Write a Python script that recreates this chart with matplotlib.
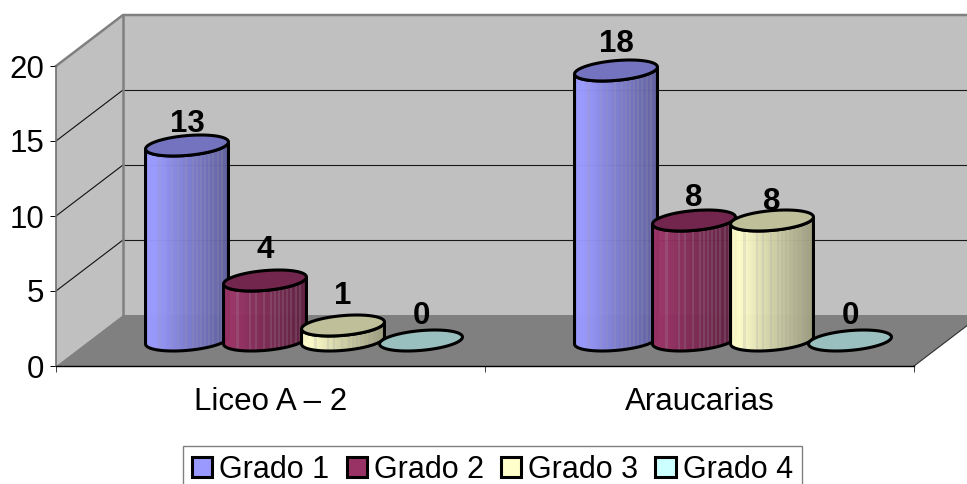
"""3-D look cylinder chart of pupils per grade for two schools."""
import matplotlib
matplotlib.use("Agg")
import matplotlib.pyplot as plt
import numpy as np
from matplotlib.patches import Patch, PathPatch, Polygon
from matplotlib.path import Path

CATEGORIES = ["Liceo A – 2", "Araucarias"]
SERIES = ["Grado 1", "Grado 2", "Grado 3", "Grado 4"]
LICEO = [13, 4, 1, 0]
ARAUCARIAS = [18, 8, 8, 0]
Y_TICKS = [0, 5, 10, 15, 20]

COLORS = ["#9999FF", "#993366", "#FFFFCC", "#CCFFFF"]

W, H = 967, 484
X0_PX, Y0_PX = 56, 366      # origin of the front axes
CAT_PX, UNIT_PX = 429, 15   # pixels per category and per value unit

# everything below is in data units: x in categories, y in value
DEPTH_X = 67 / CAT_PX
DEPTH_Y = 51 / UNIT_PX
SPACING = 78 / CAT_PX
RX, SX, SY = 39.1 / CAT_PX, 13.8 / CAT_PX, 10.5 / UNIT_PX
EDGE = 2.2

# extra lift of each value label above its cylinder top, in pixels
LIFT_PX = [[21.5, 30, 29, 24], [27, 22, 19, 24]]

# slightly lighter columns that break up the shading
STREAKS = [6, 12, 15, 19, 22, 24, 26, 28, 30, 32, 34, 36]

plt.rcParams["font.family"] = ["Liberation Sans", "DejaVu Sans"]

fig = plt.figure(figsize=(W / 100, H / 100), dpi=100)
ax = fig.add_axes([0, 0, 1, 1])
ax.patch.set_visible(False)


def shade(color):
    rgb = np.array(matplotlib.colors.to_rgb(color))
    n = 40
    f = np.interp(np.arange(n), [0, 4, 18, 39], [1.0, 1.0, 0.84, 0.62])
    cols = np.outer(f, rgb)
    for i in STREAKS:
        cols[i] = cols[i] * 0.8 + np.array([0.62, 0.62, 0.66]) * 0.2
    return cols[np.newaxis, :, :]


def rim(cx, cy, t):
    return np.column_stack([cx + RX * np.cos(t) + SX * np.sin(t), cy + SY * np.sin(t)])


def draw_cylinder(cx, base, value, color, z):
    top = base + value
    a = np.arctan2(SX, RX)
    if value > 0:
        t = np.linspace(np.pi + a, 2 * np.pi + a, 60)
        outline = np.vstack([rim(cx, base, t), rim(cx, top, t[::-1])])
        body = PathPatch(Path(np.vstack([outline, outline[0]]), closed=True),
                         facecolor="none", edgecolor="black", lw=EDGE, zorder=z + 0.2)
        ax.add_patch(body)
        half = np.hypot(RX, SX)
        img = ax.imshow(shade(color), extent=[cx - half, cx + half, base - SY, top + SY],
                        aspect="auto", interpolation="nearest", alpha=0.97, zorder=z)
        img.set_clip_path(body)
    face = np.array(matplotlib.colors.to_rgb(color)) * 0.75
    ring = rim(cx, top, np.linspace(0, 2 * np.pi, 90))
    ax.add_patch(Polygon(ring, closed=True, facecolor=face, edgecolor="black",
                         lw=EDGE, zorder=z + 0.4))


# walls and floor
y_top = Y_TICKS[-1]
n_cat = len(CATEGORIES)
ax.add_patch(Polygon([(DEPTH_X, DEPTH_Y), (n_cat + DEPTH_X, DEPTH_Y),
                      (n_cat + DEPTH_X, y_top + DEPTH_Y), (DEPTH_X, y_top + DEPTH_Y)],
                     facecolor="#C0C0C0", edgecolor="none", zorder=0.5))
ax.add_patch(Polygon([(0, 0), (DEPTH_X, DEPTH_Y), (DEPTH_X, y_top + DEPTH_Y), (0, y_top)],
                     facecolor="#C0C0C0", edgecolor="none", zorder=0.5))
ax.add_patch(Polygon([(0, 0), (n_cat, 0), (n_cat + DEPTH_X, DEPTH_Y), (DEPTH_X, DEPTH_Y)],
                     facecolor="#808080", edgecolor="none", zorder=0.6))

# gridlines run along the side wall and then the back wall
for v in Y_TICKS[1:-1]:
    ax.plot([0, DEPTH_X], [v, v + DEPTH_Y], color="#101010", lw=0.8, zorder=0.8)
    ax.plot([DEPTH_X, n_cat + DEPTH_X], [v + DEPTH_Y, v + DEPTH_Y], color="#181818",
            lw=0.8, zorder=0.8, snap=True)
ax.plot([0, DEPTH_X, n_cat + DEPTH_X], [y_top, y_top + DEPTH_Y, y_top + DEPTH_Y],
        color="#808080", lw=1.8, zorder=0.9)
ax.plot([DEPTH_X, DEPTH_X], [DEPTH_Y, y_top + DEPTH_Y], color="#808080", lw=1.8, zorder=0.9)
ax.plot([n_cat, n_cat + DEPTH_X], [0, DEPTH_Y], color="#303030", lw=0.8, zorder=0.9)

# cylinders stand at mid depth of the floor
for c, values in enumerate([LICEO, ARAUCARIAS]):
    for s, v in enumerate(values):
        cx = c + 0.5 + DEPTH_X / 2 + (s - 1.5) * SPACING
        base = DEPTH_Y / 2
        draw_cylinder(cx, base, v, COLORS[s], 3 + c * 5 + s)
        ax.text(cx, base + v + LIFT_PX[c][s] / UNIT_PX, str(v), ha="center", va="center",
                fontsize=22.5, fontweight="bold", color="black", zorder=20)

# axes are real spines placed on the front edge of the box
ax.set_xlim(-X0_PX / CAT_PX, (W - X0_PX) / CAT_PX)
ax.set_ylim((Y0_PX - H) / UNIT_PX, Y0_PX / UNIT_PX)
for side in ("top", "right"):
    ax.spines[side].set_visible(False)
ax.spines["left"].set_position(("data", 0))
ax.spines["left"].set_bounds(0, y_top)
ax.spines["left"].set_color("#707070")
ax.spines["left"].set_linewidth(1.2)
ax.spines["bottom"].set_position(("data", 0))
ax.spines["bottom"].set_bounds(0, n_cat)
ax.spines["bottom"].set_linewidth(1.0)

ax.set_yticks(Y_TICKS)
ax.set_xticks(range(n_cat + 1))
ax.set_xticklabels([])
ax.set_xticks([c + 0.5 for c in range(n_cat)], minor=True)
ax.set_xticklabels(CATEGORIES, minor=True)
ax.tick_params(axis="y", length=4.3, width=0.7, pad=4, labelsize=22.5)
ax.tick_params(axis="x", which="major", length=4.3, width=0.7, color="#404040")
ax.tick_params(axis="x", which="minor", length=0, pad=15, labelsize=22.5)

handles = [Patch(facecolor=col, edgecolor="black", lw=EDGE, label=name)
           for col, name in zip(COLORS, SERIES)]
ax.legend(handles=handles, ncol=4, loc="upper left", fontsize=22,
          bbox_to_anchor=(183 / W, 1 - 445.5 / H), bbox_transform=fig.transFigure,
          borderaxespad=0, borderpad=0.3, handlelength=0.66, handleheight=0.66,
          handletextpad=0.23, columnspacing=0.56, fancybox=False, framealpha=1,
          edgecolor="#808080", labelcolor="black")

fig.savefig("out.png", dpi=100)
